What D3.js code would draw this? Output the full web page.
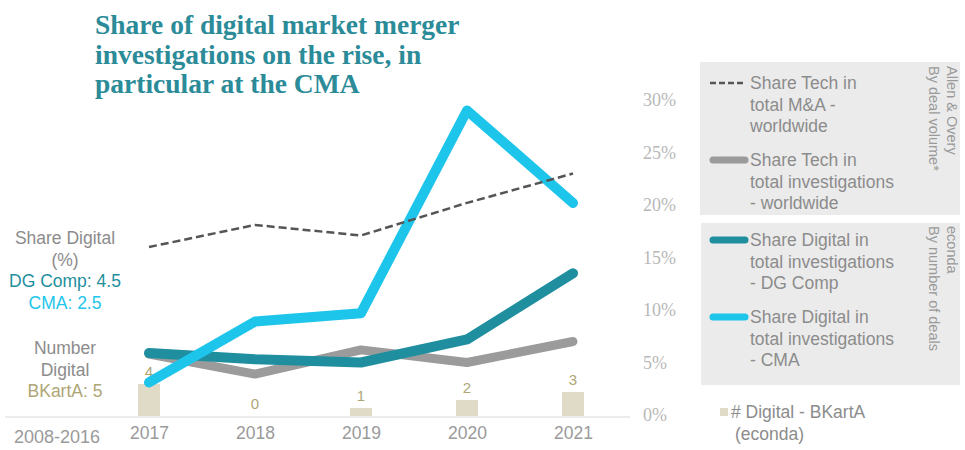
<!DOCTYPE html>
<html>
<head>
<meta charset="utf-8">
<script src="https://cdn.jsdelivr.net/npm/d3@7"></script>
<style>
  html, body { margin: 0; padding: 0; background: #fff; }
  svg { display: block; }
</style>
</head>
<body>
<svg id="chart" width="965" height="450"></svg>
<script>
// Years on the horizontal axis
const years = ["2017", "2018", "2019", "2020", "2021"];

// Share Tech in total M&A - worldwide (%), by deal volume
const techMA = [16.0, 18.1, 17.1, 20.2, 23.0];
// Share Tech in total investigations - worldwide (%)
const techInvest = [5.8, 3.9, 6.2, 5.0, 7.0];
// Share Digital in total investigations - DG Comp (%)
const dgComp = [5.9, 5.3, 5.0, 7.2, 13.5];
// Share Digital in total investigations - CMA (%)
const cma = [3.1, 8.9, 9.7, 29.0, 20.2];
// Number of digital cases - BKartA
const bkarta = [4, 0, 1, 2, 3];

const percentTicks = [0, 5, 10, 15, 20, 25, 30];

const svg = d3.select("#chart");
const sans = "'Liberation Sans', Arial, sans-serif";
const serif = "'Liberation Serif', 'Times New Roman', serif";

const x = d3.scalePoint().domain(years).range([149, 573]);
const y = d3.scaleLinear().domain([0, 30]).range([415, 100]);
const yCount = d3.scaleLinear().domain([0, 40]).range([416, 96]);

// Title
const title = svg.append("text")
  .attr("x", 95).attr("y", 34)
  .attr("font-family", serif).attr("font-weight", "bold")
  .attr("font-size", 27.5).attr("fill", "#2b8b98");
["Share of digital market merger", "investigations on the rise, in", "particular at the CMA"]
  .forEach((t, i) => title.append("tspan").attr("x", 95).attr("dy", i ? 29.5 : 0).text(t));

// Baseline
svg.append("line")
  .attr("x1", 5).attr("x2", 630).attr("y1", 417).attr("y2", 417)
  .attr("stroke", "#e6e6e6").attr("stroke-width", 1.5);

// Bars for BKartA counts
svg.append("g").selectAll("rect").data(bkarta).join("rect")
  .attr("x", (d, i) => x(years[i]) - 11)
  .attr("width", 22)
  .attr("y", d => yCount(d))
  .attr("height", d => yCount(0) - yCount(d))
  .attr("fill", "#dfdbc6");

svg.append("g").selectAll("text").data(bkarta).join("text")
  .attr("x", (d, i) => x(years[i]))
  .attr("y", d => yCount(d) - 7)
  .attr("text-anchor", "middle")
  .attr("font-family", sans).attr("font-size", 15)
  .attr("fill", "#aea676")
  .text(d => d);

// Lines
const line = d3.line().x((d, i) => x(years[i])).y(d => y(d));

function drawLine(values, color, width, dash) {
  const p = svg.append("path").datum(values)
    .attr("d", line)
    .attr("fill", "none")
    .attr("stroke", color)
    .attr("stroke-width", width)
    .attr("stroke-linejoin", "round")
    .attr("stroke-linecap", dash ? "butt" : "round");
  if (dash) p.attr("stroke-dasharray", dash);
}

drawLine(techInvest, "#9b9b9b", 9);
drawLine(dgComp, "#1f8fa0", 10);
drawLine(cma, "#1ec5eb", 10);
drawLine(techMA, "#555555", 2.5, "8,4");

// X axis labels
const xAxis = d3.axisBottom(x).tickSize(0).tickPadding(0);
const gx = svg.append("g").attr("transform", "translate(0,424)").call(xAxis);
gx.select(".domain").remove();
gx.selectAll("text")
  .attr("font-family", sans).attr("font-size", 17.5)
  .attr("fill", "#9a9a9a").attr("dy", "0.85em");

svg.append("text")
  .attr("x", 57).attr("y", 443)
  .attr("text-anchor", "middle")
  .attr("font-family", sans).attr("font-size", 18)
  .attr("fill", "#9a9a9a")
  .text("2008-2016");

// Right percentage axis
const yAxis = d3.axisRight(y).tickValues(percentTicks).tickSize(0).tickPadding(0)
  .tickFormat(d => d + "%");
const gy = svg.append("g").attr("transform", "translate(643,0)").call(yAxis);
gy.select(".domain").remove();
gy.selectAll("text")
  .attr("font-family", serif).attr("font-size", 18)
  .attr("fill", "#b8b8b8");

// Left side notes for the 2008-2016 period
const notes = [
  { t: "Share Digital", c: "#8c8c8c", y: 244 },
  { t: "(%)", c: "#8c8c8c", y: 265.5 },
  { t: "DG Comp: 4.5", c: "#1f8fa0", y: 287 },
  { t: "CMA: 2.5", c: "#1ec5eb", y: 308.5 },
  { t: "Number", c: "#8c8c8c", y: 354 },
  { t: "Digital", c: "#8c8c8c", y: 375.5 },
  { t: "BKartA: 5", c: "#aea676", y: 397 }
];
svg.append("g").selectAll("text").data(notes).join("text")
  .attr("x", 65).attr("y", d => d.y)
  .attr("text-anchor", "middle")
  .attr("font-family", sans).attr("font-size", 17.5)
  .attr("fill", d => d.c)
  .text(d => d.t);

// Legend panels
svg.append("rect").attr("x", 700).attr("y", 62).attr("width", 260).attr("height", 153).attr("fill", "#ebebeb");
svg.append("rect").attr("x", 701).attr("y", 223).attr("width", 259).attr("height", 162).attr("fill", "#ebebeb");

const legendItems = [
  { lines: ["Share Tech in", "total M&A -", "worldwide"], y: 83, color: "#555555", w: 2.5, dash: "6,3" },
  { lines: ["Share Tech in", "total investigations", "- worldwide"], y: 160, color: "#9b9b9b", w: 7 },
  { lines: ["Share Digital in", "total investigations", "- DG Comp"], y: 240, color: "#1f8fa0", w: 7 },
  { lines: ["Share Digital in", "total investigations", "- CMA"], y: 317, color: "#1ec5eb", w: 7 }
];
legendItems.forEach(item => {
  const ln = svg.append("line")
    .attr("x1", item.dash ? 710 : 713).attr("x2", item.dash ? 744 : 745)
    .attr("y1", item.y).attr("y2", item.y)
    .attr("stroke", item.color).attr("stroke-width", item.w)
    .attr("stroke-linecap", item.dash ? "butt" : "round");
  if (item.dash) ln.attr("stroke-dasharray", item.dash);
  const t = svg.append("text")
    .attr("x", 750).attr("y", item.y + 6)
    .attr("font-family", sans).attr("font-size", 17.5)
    .attr("fill", "#8c8c8c");
  item.lines.forEach((s, i) => t.append("tspan").attr("x", 750).attr("dy", i ? 21.5 : 0).text(s));
});

// Source notes, rotated along the panel edge
const sources = [
  { t: "Allen & Overy", x: 947, y: 66 },
  { t: "By deal volume*", x: 929, y: 66 },
  { t: "econda", x: 947, y: 226 },
  { t: "By number of deals", x: 929, y: 226 }
];
svg.append("g").selectAll("text").data(sources).join("text")
  .attr("transform", d => `translate(${d.x},${d.y}) rotate(90)`)
  .attr("font-family", sans).attr("font-size", 14.5)
  .attr("fill", "#9a9a9a")
  .text(d => d.t);

// Bar legend
svg.append("rect").attr("x", 720).attr("y", 408).attr("width", 8).attr("height", 8).attr("fill", "#dfdbc6");
const bl = svg.append("text")
  .attr("x", 731).attr("y", 418)
  .attr("font-family", sans).attr("font-size", 17.5)
  .attr("fill", "#8c8c8c");
["# Digital - BKartA", "(econda)"].forEach((s, i) =>
  bl.append("tspan").attr("x", i ? 735 : 731).attr("dy", i ? 21.5 : 0).text(s));
</script>
</body>
</html>
